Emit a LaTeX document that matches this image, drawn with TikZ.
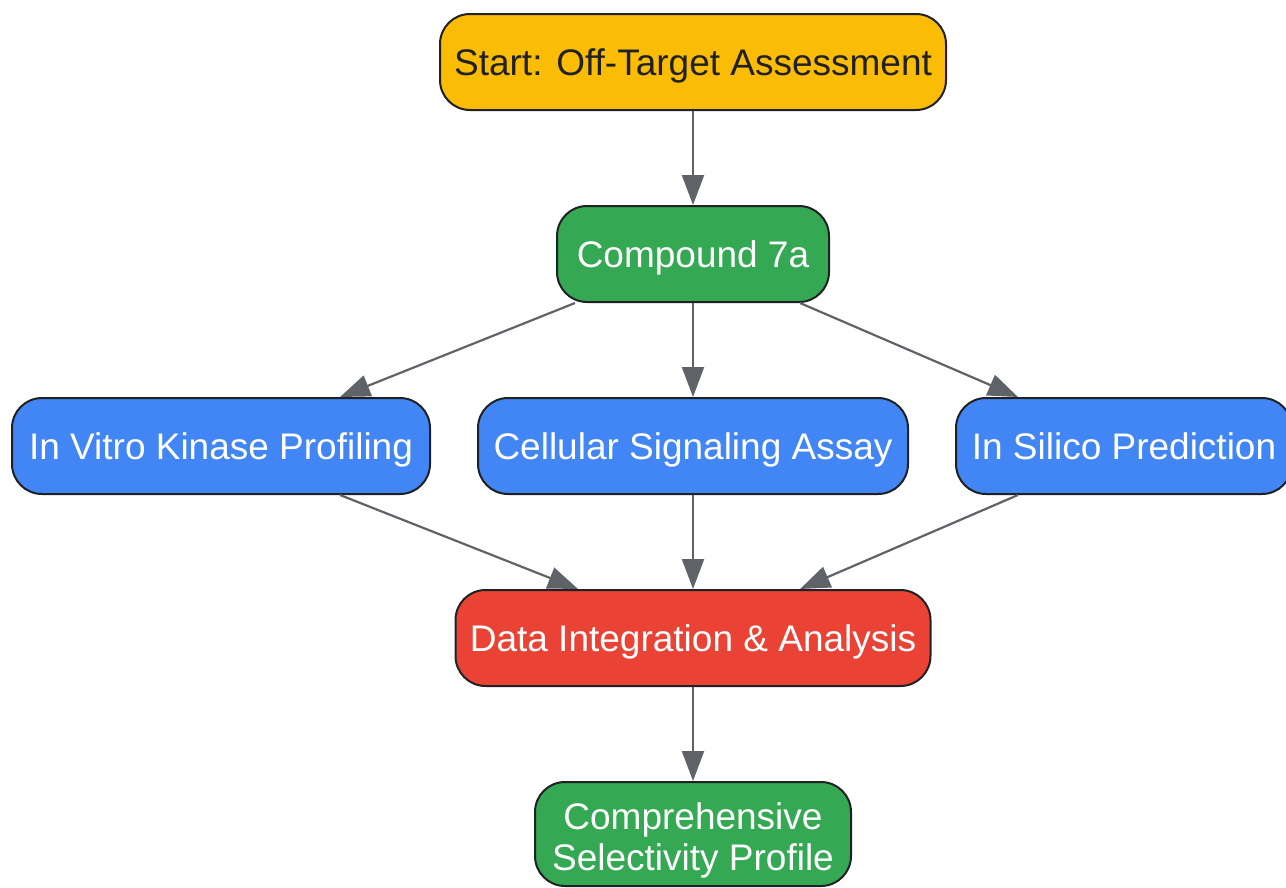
\documentclass[tikz,border=0pt]{standalone}
\usepackage{fontspec}
\setmainfont{Liberation Sans}
\usetikzlibrary{arrows.meta,calc}
\definecolor{cyellow}{HTML}{FBBC05}
\definecolor{cgreen}{HTML}{34A853}
\definecolor{cblue}{HTML}{4285F4}
\definecolor{cred}{HTML}{EA4335}
\definecolor{cedge}{HTML}{5F6368}
\definecolor{ctext}{HTML}{202124}
\begin{document}
\begin{tikzpicture}[x=1pt,y=-1pt,
  box/.style={draw=ctext, line width=2pt, rounded corners=30pt, minimum height=96pt, inner sep=0pt, align=center, font=\fontsize{37}{41}\selectfont},
  oneline/.style={text height=34pt, text depth=8pt},
  conn/.style={draw=cedge, line width=2.2pt, -{Triangle[length=30pt,width=22pt]}}]
\useasboundingbox (0,0) rectangle (1286,887);
\node[box, oneline, fill=cyellow, text=ctext, minimum width=506pt] (start) at (693,62) {Start: Off-Target Assessment};
\node[box, oneline, fill=cgreen, text=white, minimum width=272pt] (comp) at (693,254) {Compound 7a};
\node[box, oneline, fill=cblue, text=white, minimum width=418pt] (vitro) at (221,446) {In Vitro Kinase Profiling};
\node[box, oneline, fill=cblue, text=white, minimum width=430pt] (cell) at (693,446) {Cellular Signaling Assay};
\node[box, oneline, fill=cblue, text=white, minimum width=336pt] (silico) at (1124,446) {In Silico Prediction};
\node[box, oneline, fill=cred, text=white, minimum width=475pt] (data) at (693,638) {Data Integration \& Analysis};
\node[box, fill=cgreen, text=white, minimum width=316pt, minimum height=104pt] (prof) at (693,834) {\raisebox{-8pt}[\height][\depth]{\begin{tabular}{@{}c@{}}Comprehensive\\Selectivity Profile\end{tabular}}};
\draw[conn] (start.south) -- (comp.north);
\draw[conn] ($(comp.south)+(-118,0)$) -- ($(vitro.north)+(119,0)$);
\draw[conn] (comp.south) -- (cell.north);
\draw[conn] ($(comp.south)+(107,0)$) -- ($(silico.north)+(-106,0)$);
\draw[conn] ($(vitro.south)+(119,0)$) -- ($(data.north)+(-115,0)$);
\draw[conn] (cell.south) -- (data.north);
\draw[conn] ($(silico.south)+(-106,0)$) -- ($(data.north)+(107,0)$);
\draw[conn] (data.south) -- (prof.north);
\end{tikzpicture}
\end{document}
